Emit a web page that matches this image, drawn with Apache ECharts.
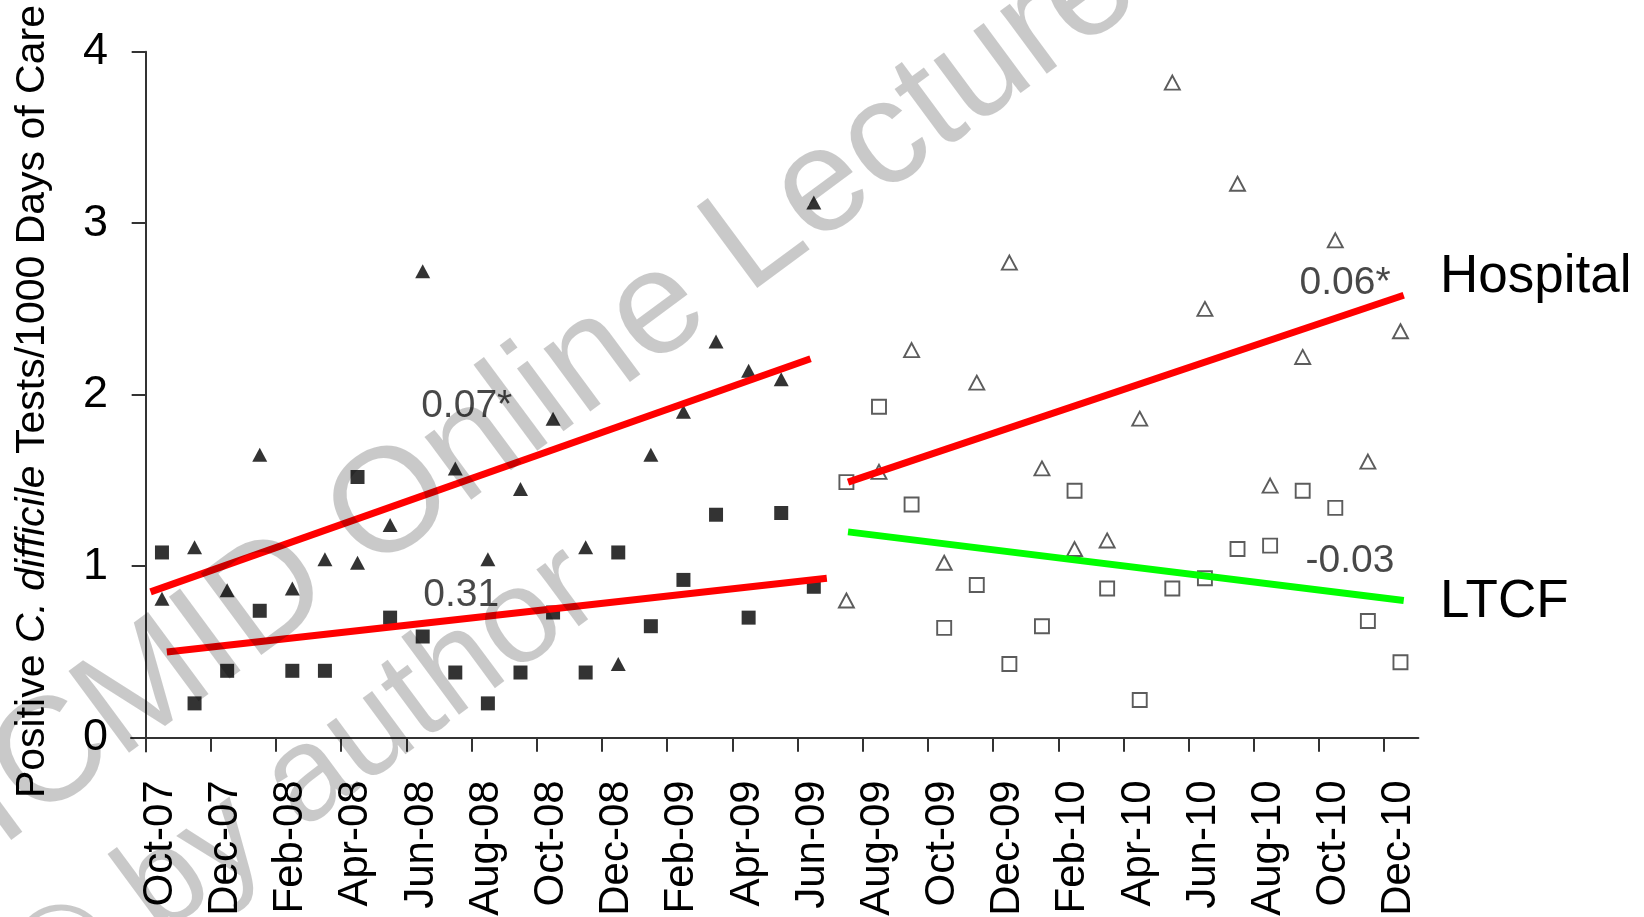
<!DOCTYPE html>
<html>
<head>
<meta charset="utf-8">
<title>Positive C. difficile tests per 1000 days of care</title>
<script src="https://cdn.jsdelivr.net/npm/echarts@6/dist/echarts.min.js"></script>
<style>
  html, body { margin: 0; padding: 0; background: #ffffff; }
  #chart { width: 1644px; height: 917px; }
</style>
</head>
<body>
<div id="chart"></div>
<script>
// Month index 0 = Oct-07; a label every second month.
const monthTicks = ['Oct-07', 'Dec-07', 'Feb-08', 'Apr-08', 'Jun-08', 'Aug-08', 'Oct-08', 'Dec-08',
  'Feb-09', 'Apr-09', 'Jun-09', 'Aug-09', 'Oct-09', 'Dec-09', 'Feb-10', 'Apr-10', 'Jun-10',
  'Aug-10', 'Oct-10', 'Dec-10'];
const yTicks = [0, 1, 2, 3, 4];

// Monthly rates, Oct-07 .. Jun-09 (before)
const hospitalPre = [0.81, 1.11, 0.86, 1.65, 0.87, 1.04, 1.02, 1.24, 2.72, 1.57, 1.04,
  1.45, 1.86, 1.11, 0.43, 1.65, 1.90, 2.31, 2.14, 2.09, 3.12];
const ltcfPre = [1.08, 0.20, 0.39, 0.74, 0.39, 0.39, 1.52, 0.70, 0.59, 0.38, 0.20,
  0.38, 0.73, 0.38, 1.08, 0.65, 0.92, 1.30, 0.70, 1.31, 0.88];

// Monthly rates, Jul-09 .. Dec-10 (after)
const hospitalPost = [0.80, 1.55, 2.26, 1.02, 2.07, 2.77, 1.57, 1.10, 1.15, 1.86,
  3.82, 2.50, 3.23, 1.47, 2.22, 2.90, 1.61, 2.37];
const ltcfPost = [1.49, 1.93, 1.36, 0.64, 0.89, 0.43, 0.65, 1.44, 0.87, 0.22,
  0.87, 0.93, 1.10, 1.12, 1.44, 1.34, 0.68, 0.44];
const POST_START = 21;

// Fitted trend segments: [month, rate] at each end
const trendHospitalPre = [[0.15, 0.85], [20.4, 2.21]];
const trendLtcfPre = [[0.65, 0.50], [20.9, 0.93]];
const trendHospitalPost = [[21.55, 1.49], [38.6, 2.58]];
const trendLtcfPost = [[21.55, 1.20], [38.6, 0.80]];

// Slope annotations: [month, rate, text]
const slopeNotes = [
  [9.85, 1.93, '0.07*'],
  [9.68, 0.83, '0.31'],
  [36.8, 2.65, '0.06*'],
  [36.95, 1.03, '-0.03']
];

const FONT = '"Liberation Sans", Arial, Helvetica, sans-serif';
const POINT_OFFSET = 0.5;   // each month's value sits mid-month
const LABEL_SHIFT = 0.45;   // rotated tick labels sit just right of their tick

const toPoints = (vals, start) => vals.map((v, i) => [start + i + POINT_OFFSET, v]);
const tickValues = monthTicks.map((_, k) => k * 2);

const chart = echarts.init(document.getElementById('chart'), null, { renderer: 'canvas' });

const filledStyle = { color: '#000000' };
const openStyle = { color: '#ffffff', borderColor: '#333333', borderWidth: 1.9 };
const WATERMARK_ANGLE = 36.5 * Math.PI / 180;

const option = {
  backgroundColor: '#ffffff',
  animation: false,
  grid: { left: 131, right: 225.6, top: 51.7, bottom: 165.6, outerBoundsMode: 'none' },
  xAxis: {
    type: 'value',
    min: -0.45,
    max: 39.05,
    splitLine: { show: false },
    axisLine: { onZero: true, lineStyle: { color: '#333333', width: 2 } },
    axisTick: { customValues: tickValues, length: 14, lineStyle: { color: '#333333', width: 2 } },
    axisLabel: {
      customValues: tickValues.map(v => v + LABEL_SHIFT),
      formatter: v => monthTicks[Math.round((v - LABEL_SHIFT) / 2)],
      rotate: 90,
      margin: 29,
      fontFamily: FONT,
      fontSize: 42,
      color: '#000000'
    }
  },
  yAxis: {
    type: 'value',
    min: -0.08,
    max: 4,
    splitLine: { show: false },
    axisLine: { onZero: true, lineStyle: { color: '#333333', width: 2 } },
    axisTick: { customValues: yTicks, length: 14, lineStyle: { color: '#333333', width: 2 } },
    axisLabel: {
      customValues: yTicks,
      margin: 23,
      fontFamily: FONT,
      fontSize: 45,
      color: '#000000'
    },
    name: '{n|Positive }{i|C. difficile}{n| Tests/1000 Days of Care}',
    nameLocation: 'middle',
    nameRotate: 90,
    nameGap: 78,
    nameTextStyle: {
      fontFamily: FONT,
      fontSize: 41,
      color: '#000000',
      rich: {
        n: { fontFamily: FONT, fontSize: 41, color: '#000000' },
        i: { fontFamily: FONT, fontSize: 41, color: '#000000', fontStyle: 'italic' }
      }
    }
  },
  series: [
    {
      name: 'Hospital (before)', type: 'scatter', symbol: 'triangle', symbolSize: [15, 14],
      itemStyle: filledStyle, data: toPoints(hospitalPre, 0), z: 3
    },
    {
      name: 'LTCF (before)', type: 'scatter', symbol: 'rect', symbolSize: 14,
      itemStyle: filledStyle, data: toPoints(ltcfPre, 0), z: 3
    },
    {
      name: 'Hospital (after)', type: 'scatter', symbol: 'triangle', symbolSize: [15, 14],
      itemStyle: openStyle, data: toPoints(hospitalPost, POST_START), z: 3
    },
    {
      name: 'LTCF (after)', type: 'scatter', symbol: 'rect', symbolSize: 14,
      itemStyle: openStyle, data: toPoints(ltcfPost, POST_START), z: 3
    },
    {
      type: 'line', data: trendHospitalPre, symbol: 'none', z: 4,
      lineStyle: { color: '#ff0000', width: 7, cap: 'butt' }
    },
    {
      type: 'line', data: trendLtcfPre, symbol: 'none', z: 4,
      lineStyle: { color: '#ff0000', width: 7, cap: 'butt' }
    },
    {
      type: 'line', data: trendHospitalPost, symbol: 'none', z: 4,
      lineStyle: { color: '#ff0000', width: 7, cap: 'butt' }
    },
    {
      type: 'line', data: trendLtcfPost, symbol: 'none', z: 4,
      lineStyle: { color: '#00ff00', width: 7, cap: 'butt' }
    },
    {
      type: 'scatter', data: slopeNotes, symbolSize: 1, z: 5,
      itemStyle: { color: 'transparent' },
      label: {
        show: true, position: 'inside',
        formatter: p => p.data[2],
        fontFamily: FONT, fontSize: 39, color: '#1a1a1a'
      }
    }
  ],
  graphic: [
    {
      type: 'text', left: 1440, top: 282 - 31, z: 10,
      style: { text: 'Hospital', font: '53px ' + FONT, fill: '#000000' }
    },
    {
      type: 'text', left: 1440, top: 607 - 31, z: 10,
      style: { text: 'LTCF', font: '53px ' + FONT, fill: '#000000' }
    },
    {
      type: 'text', x: 548, y: 392, rotation: WATERMARK_ANGLE, z: 50, silent: true,
      style: {
        text: 'ICMID Online Lecture', font: '148px ' + FONT,
        fill: 'rgba(0,0,0,0.21)', align: 'center', verticalAlign: 'middle'
      }
    },
    {
      type: 'text', x: 306, y: 782, rotation: WATERMARK_ANGLE, z: 50, silent: true,
      style: {
        text: '\u00A9 by author', font: '134px ' + FONT,
        fill: 'rgba(0,0,0,0.21)', align: 'center', verticalAlign: 'middle'
      }
    }
  ]
};

chart.setOption(option);
</script>
</body>
</html>
